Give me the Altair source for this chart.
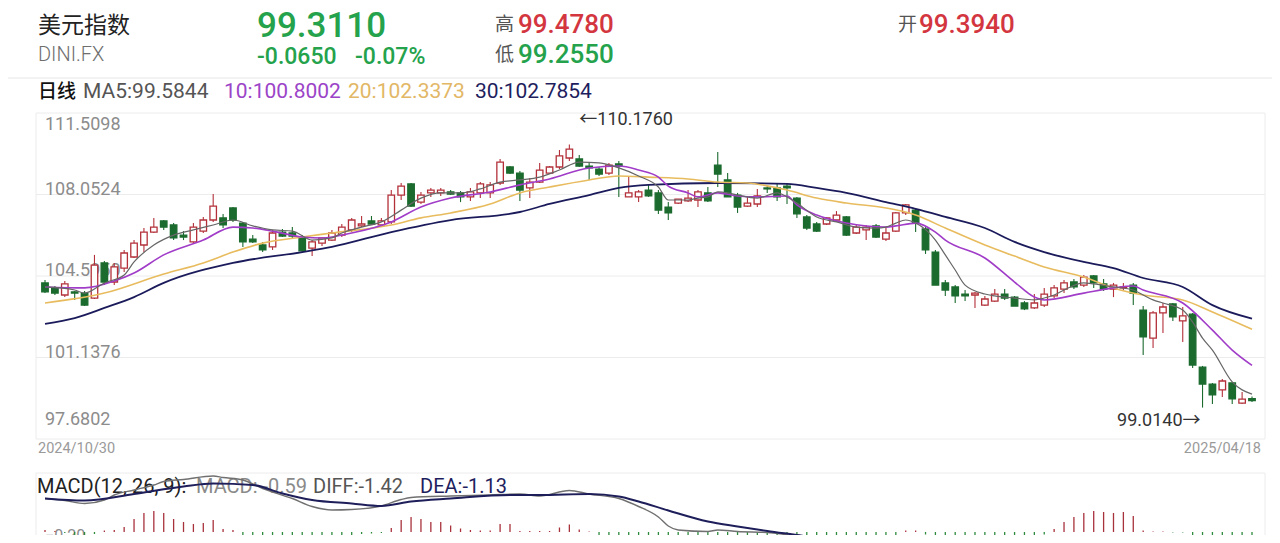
import altair as alt
import pandas as pd

# ---------------- header texts ----------------
NAME = "美元指数"
CODE = "DINI.FX"
LAST = "99.3110"
CHANGE = "-0.0650"
CHANGE_PCT = "-0.07%"
HIGH_LBL, HIGH_TXT = "高", "99.4780"
LOW_LBL, LOW_TXT = "低", "99.2550"
OPEN_LBL, OPEN_TXT = "开", "99.3940"
PERIOD = "日线"
MA_TXT = ["MA5:99.5844", "10:100.8002", "20:102.3373", "30:102.7854"]
MACD_TXT = ["MACD(12, 26, 9):", "MACD: -0.59", "DIFF:-1.42", "DEA:-1.13"]
DATE_START = "2024/10/30"
DATE_END = "2025/04/18"
Y_TICKS = [111.5098, 108.0524, 104.5950, 101.1376, 97.6802]
MACD_TICK = [-0.20]

# ---------------- daily candles (2024/10/30 .. 2025/04/18) ----------------
OPEN = [104.30, 104.09, 103.79, 103.92, 103.87, 103.66, 105.15, 104.34, 104.93, 105.40,
        105.91, 106.46, 106.93, 106.76, 106.33, 106.04, 106.50, 106.97, 107.06, 107.48,
        106.84, 106.16, 105.91, 105.83, 106.46, 106.42, 106.25, 105.78, 105.99, 106.12,
        106.33, 106.55, 106.72, 106.93, 106.76, 106.89, 108.03, 108.50, 107.73, 108.12,
        108.12, 108.16, 108.12, 107.95, 108.12, 108.12, 108.54, 109.22, 108.96, 108.33,
        108.58, 108.96, 109.22, 109.60, 109.56, 109.26, 109.13, 108.96, 109.35, 107.95,
        107.95, 108.24, 108.12, 107.52, 107.69, 107.78, 107.82, 108.12, 109.30, 108.67,
        108.03, 107.56, 107.65, 108.33, 108.33, 108.41, 107.90, 107.10, 106.80, 106.80,
        106.97, 107.10, 106.42, 106.55, 106.72, 106.16, 106.50, 107.27, 107.39, 106.59,
        105.61, 104.30, 104.13, 103.83, 103.79, 103.36, 103.53, 103.83, 103.70, 103.45,
        103.24, 103.36, 103.75, 104.04, 104.34, 104.21, 104.60, 104.26, 104.04, 104.09,
        104.21, 103.15, 101.96, 103.03, 103.41, 102.69, 102.98, 100.73, 100.01, 99.76,
        100.06, 99.20, 99.394]
HIGH = [104.43, 104.17, 104.38, 103.96, 103.96, 105.49, 105.23, 105.15, 105.70, 106.12,
        106.63, 107.06, 106.97, 106.84, 106.50, 106.84, 107.10, 108.07, 107.23, 107.52,
        106.89, 106.33, 106.04, 106.55, 106.59, 106.67, 106.33, 106.12, 106.21, 106.55,
        106.80, 107.06, 107.14, 107.14, 107.06, 108.24, 108.54, 108.54, 108.16, 108.33,
        108.33, 108.24, 108.20, 108.33, 108.58, 108.58, 109.56, 109.26, 109.05, 108.75,
        109.39, 109.26, 109.94, 110.176, 109.73, 109.39, 109.22, 109.39, 109.47, 108.79,
        108.24, 108.46, 108.24, 107.73, 107.86, 108.24, 108.24, 108.37, 109.86, 108.96,
        108.12, 107.99, 108.29, 108.41, 108.50, 108.50, 107.95, 107.18, 106.89, 107.10,
        107.35, 107.14, 106.76, 106.76, 106.80, 106.63, 107.31, 107.65, 107.48, 106.67,
        105.70, 104.43, 104.21, 104.00, 103.92, 103.75, 104.04, 104.04, 103.75, 103.53,
        103.83, 104.09, 104.21, 104.43, 104.47, 104.64, 104.64, 104.47, 104.30, 104.30,
        104.30, 103.32, 103.11, 103.45, 103.45, 103.28, 103.03, 100.78, 100.06, 100.23,
        100.06, 99.67, 99.478]
LOW = [103.87, 103.79, 103.70, 103.58, 103.32, 103.62, 104.21, 104.21, 104.76, 105.36,
       105.61, 106.42, 106.55, 106.12, 106.12, 105.99, 106.42, 106.89, 106.63, 106.89,
       105.83, 105.99, 105.61, 105.70, 106.25, 106.21, 105.61, 105.44, 105.87, 106.08,
       106.25, 106.46, 106.67, 106.80, 106.67, 106.80, 107.82, 107.52, 107.65, 107.95,
       107.99, 108.03, 107.73, 107.78, 107.90, 107.90, 108.46, 108.92, 107.78, 107.90,
       108.54, 108.92, 109.13, 109.47, 109.22, 108.67, 108.84, 108.88, 107.95, 107.95,
       107.73, 107.95, 107.23, 106.97, 107.65, 107.73, 107.52, 107.73, 108.37, 107.95,
       107.27, 107.52, 107.52, 108.12, 107.78, 107.65, 107.06, 106.55, 106.46, 106.76,
       106.89, 106.29, 106.38, 106.12, 106.21, 106.08, 106.46, 107.18, 106.46, 105.53,
       104.21, 103.75, 103.45, 103.53, 103.24, 103.32, 103.49, 103.58, 103.32, 103.15,
       103.20, 103.28, 103.66, 103.87, 104.04, 104.13, 104.09, 103.96, 103.70, 104.00,
       103.36, 101.24, 101.54, 102.18, 102.69, 101.80, 100.69, 99.014, 99.17, 99.46,
       99.17, 99.17, 99.255]
CLOSE = [103.92, 103.87, 104.26, 103.87, 103.36, 105.06, 104.34, 104.98, 105.57, 105.99,
         106.46, 106.67, 106.67, 106.21, 106.25, 106.67, 106.97, 107.56, 106.76, 106.97,
         106.04, 106.04, 105.70, 106.42, 106.29, 106.29, 105.66, 106.04, 106.21, 106.42,
         106.67, 106.97, 106.80, 106.80, 106.93, 108.03, 108.41, 107.56, 108.03, 108.24,
         108.24, 108.07, 107.95, 108.16, 108.50, 108.46, 109.43, 108.96, 108.24, 108.58,
         109.09, 109.22, 109.69, 109.98, 109.26, 109.18, 108.92, 109.30, 109.26, 108.12,
         108.16, 107.99, 107.39, 107.27, 107.86, 107.90, 108.16, 107.78, 108.92, 107.95,
         107.52, 107.69, 107.99, 108.29, 107.95, 108.33, 107.23, 106.63, 106.50, 107.06,
         107.18, 106.33, 106.67, 106.67, 106.25, 106.42, 107.27, 107.61, 106.84, 105.70,
         104.21, 104.00, 103.75, 103.75, 103.87, 103.62, 103.83, 103.66, 103.32, 103.20,
         103.45, 103.83, 104.09, 104.30, 104.13, 104.55, 104.30, 104.04, 104.21, 104.13,
         103.87, 102.01, 103.03, 103.28, 102.86, 102.90, 100.82, 100.01, 99.55, 100.14,
         99.38, 99.376, 99.311]

# ---------------- moving averages (read at sample days) ----------------
MA5_IDX = [0, 3, 4, 6, 8, 9, 11, 13, 15, 17, 19, 21, 23, 25, 27, 29, 30, 32, 34, 36,
           38, 40, 42, 44, 46, 48, 50, 52, 54, 56, 58, 60, 62, 63, 65, 66, 67, 68, 69, 70,
           72, 74, 75, 76, 78, 80, 82, 84, 85, 86, 87, 88, 90, 91, 92, 93, 95, 96, 98, 100,
           101, 102, 103, 105, 106, 108, 110, 111, 112, 113, 115, 116, 117, 118, 120, 122]
MA5 = [104.13, 104.00, 103.87, 104.30, 104.64, 105.19, 105.91, 106.33, 106.55, 106.76,
       106.97, 106.72, 106.55, 106.50, 106.12, 106.21, 106.42, 106.67, 106.89, 107.39,
       107.90, 108.12, 108.12, 108.29, 108.58, 108.67, 108.79, 109.09, 109.43, 109.39,
       109.18, 108.84, 108.37, 107.82, 107.82, 107.90, 107.95, 108.16, 108.12, 108.03,
       107.90, 108.12, 107.95, 107.69, 107.10, 106.89, 106.67, 106.63, 106.67, 106.84,
       106.97, 106.84, 106.12, 105.49, 104.85, 104.21, 103.83, 103.75, 103.66, 103.58,
       103.66, 103.79, 104.00, 104.30, 104.26, 104.13, 104.00, 103.79, 103.58, 103.45,
       103.15, 102.64, 101.96, 101.45, 100.10, 99.5844]
MA10_IDX = [0, 4, 7, 9, 12, 16, 19, 21, 23, 26, 28, 31, 35, 38, 41, 45, 48, 51, 55, 58,
            60, 62, 63, 65, 66, 68, 70, 72, 75, 76, 78, 81, 85, 86, 88, 90, 91, 95, 98, 100,
            101, 105, 108, 110, 111, 115, 118, 120, 122]
MA10 = [104.13, 104.09, 104.38, 104.72, 105.49, 106.12, 106.67, 106.63, 106.50, 106.25,
        106.21, 106.42, 106.89, 107.52, 107.90, 108.16, 108.46, 108.71, 109.18, 109.26,
        109.09, 108.79, 108.41, 108.12, 107.95, 108.12, 107.99, 107.95, 107.99, 107.61,
        107.18, 106.84, 106.67, 106.72, 106.84, 106.46, 106.12, 105.36, 104.34, 103.70,
        103.58, 103.87, 104.09, 104.17, 104.00, 103.45, 102.30, 101.45, 100.8002]
MA20_IDX = [0, 6, 12, 16, 19, 22, 26, 29, 35, 38, 41, 45, 48, 51, 55, 58, 61, 65, 68, 71,
            75, 78, 81, 85, 88, 91, 95, 98, 101, 105, 108, 111, 115, 118, 122]
MA20 = [103.45, 103.87, 104.68, 105.15, 105.61, 105.99, 106.25, 106.42, 106.76, 107.06,
        107.27, 107.65, 108.12, 108.37, 108.67, 108.84, 108.79, 108.71, 108.58, 108.54,
        108.24, 107.90, 107.69, 107.48, 107.18, 106.63, 105.91, 105.44, 104.98, 104.55,
        104.09, 103.79, 103.58, 103.07, 102.3373]
MA30_IDX = [0, 3, 6, 9, 12, 19, 26, 29, 35, 41, 48, 51, 55, 58, 61, 68, 75, 78, 81, 85,
            88, 91, 95, 98, 101, 105, 108, 111, 115, 118, 122]
MA30 = [102.56, 102.81, 103.24, 103.70, 104.30, 105.15, 105.61, 105.83, 106.46, 106.97,
        107.31, 107.65, 108.03, 108.33, 108.46, 108.54, 108.50, 108.33, 108.12, 107.73,
        107.44, 107.10, 106.63, 106.04, 105.61, 105.19, 104.93, 104.51, 104.13, 103.36,
        102.7854]

# ---------------- MACD(12, 26, 9) ----------------
HIST = [0.04, 0.02, -0.02, -0.06, -0.08, -0.04, 0.03, 0.04, 0.10, 0.26,
        0.38, 0.42, 0.38, 0.26, 0.20, 0.16, 0.18, 0.24, 0.06, 0.04,
        -0.06, -0.18, -0.30, -0.36, -0.40, -0.42, -0.44, -0.40, -0.36, -0.30,
        -0.24, -0.18, -0.04, -0.03, -0.02, 0.08, 0.24, 0.30, 0.26, 0.20,
        0.20, 0.13, 0.07, 0.04, 0.03, 0.03, 0.16, 0.16, 0.02, 0.02,
        0.02, 0.02, 0.09, 0.15, 0.05, 0.01, -0.06, -0.13, -0.16, -0.22,
        -0.24, -0.32, -0.40, -0.55, -0.62, -0.55, -0.45, -0.40, -0.34, -0.28,
        -0.24, -0.24, -0.26, -0.24, -0.26, -0.30, -0.32, -0.30, -0.38, -0.36,
        -0.38, -0.34, -0.30, -0.28, -0.26, -0.24, -0.08, 0.03, 0.03, -0.05,
        -0.24, -0.36, -0.42, -0.46, -0.46, -0.44, -0.40, -0.36, -0.34, -0.30,
        -0.24, -0.05, 0.06, 0.20, 0.30, 0.38, 0.42, 0.40, 0.38, 0.40,
        0.32, 0.03, 0.01, 0.01, -0.01, -0.01, -0.28, -0.44, -0.56, -0.62,
        -0.64, -0.62, -0.59]
DIFF_IDX = [0, 2, 4, 6, 7, 9, 11, 12, 14, 17, 18, 20, 22, 25, 27, 29, 31, 34, 36, 37,
            41, 45, 48, 50, 53, 55, 58, 60, 62, 63, 64, 67, 68, 70, 73, 75, 77, 80, 85, 88,
            90, 95, 100, 102, 106, 110, 113, 116, 119, 122]
DIFF = [0.67, 0.63, 0.57, 0.64, 0.74, 0.84, 0.94, 1.01, 1.05, 1.12,
        1.09, 1.04, 0.87, 0.67, 0.51, 0.44, 0.45, 0.52, 0.65, 0.69,
        0.72, 0.74, 0.76, 0.72, 0.83, 0.76, 0.67, 0.51, 0.30, 0.12,
        0.04, 0.01, 0.04, 0.01, -0.01, -0.06, -0.19, -0.38, -0.40, -0.42,
        -0.65, -0.98, -1.05, -0.88, -0.60, -0.56, -0.68, -0.90, -1.25, -1.42]
DEA_IDX = [0, 4, 9, 14, 17, 21, 24, 27, 31, 34, 37, 41, 47, 50, 55, 58, 60, 63, 67, 70,
           73, 77, 80, 85, 90, 95, 100, 103, 106, 110, 113, 116, 119, 122]
DEA = [0.67, 0.63, 0.76, 0.91, 0.97, 0.94, 0.77, 0.64, 0.57, 0.52,
       0.61, 0.67, 0.74, 0.74, 0.76, 0.71, 0.61, 0.43, 0.21, 0.11,
       0.02, -0.09, -0.19, -0.35, -0.55, -0.75, -0.90, -0.88, -0.80, -0.72,
       -0.68, -0.75, -0.95, -1.13]

# ---------------- styles ----------------
SANS = "Roboto, Noto Sans CJK SC, sans-serif"
CJK = "Noto Sans CJK SC"
RED = "#B3303A"
GREEN = "#1B6B2E"
H_RED = "#D3363F"
H_GREEN = "#24A24C"
HIST_RED = "#A8323C"
HIST_GREEN = "#2E8B3C"
C_MA5, C_MA10, C_MA20, C_MA30 = "#666666", "#A03CC8", "#E8BC5E", "#1B1B5C"
GRID = "#ececec"

N = len(CLOSE)
XS = alt.Scale(domain=[0, N - 1], range=[32, 1249], nice=False, zero=False)
PS = alt.Scale(domain=[Y_TICKS[-1], Y_TICKS[0]], range=[431, 105], nice=False, zero=False)
MS = alt.Scale(domain=[-0.2, 1.0], range=[534, 474], nice=False, zero=False)
X = alt.X("i:Q", scale=XS, axis=None)


def txt(s, x, y, size, color, font=SANS, weight="normal", align="left"):
    return alt.Chart(alt.Data(values=[{"t": s}])).mark_text(
        align=align, baseline="middle", font=font, fontSize=size,
        fontWeight=weight, color=color).encode(
        text="t:N", x=alt.value(x), y=alt.value(y))


def hline(y, x1, x2, color=GRID):
    return alt.Chart(alt.Data(values=[{}])).mark_rule(color=color, strokeWidth=1).encode(
        x=alt.value(x1), x2=alt.value(x2), y=alt.value(y))


def vline(x, y1, y2, color=GRID):
    return alt.Chart(alt.Data(values=[{}])).mark_rule(color=color, strokeWidth=1).encode(
        x=alt.value(x), y=alt.value(y1), y2=alt.value(y2))


layers = []

# header
layers += [
    txt(NAME, 30, 18, 23, "#222222", font=CJK),
    txt(CODE, 30, 47, 20, "#6e6e6e", weight=300),
    txt(LAST, 249, 18, 35, H_GREEN, weight=500),
    txt(CHANGE, 249, 49, 23, H_GREEN, weight=500),
    txt(CHANGE_PCT, 347, 49, 23, H_GREEN, weight=500),
    txt(HIGH_LBL, 487, 17, 19, "#555555", font=CJK),
    txt(HIGH_TXT, 510, 17, 26, H_RED, weight=500),
    txt(LOW_LBL, 487, 47, 19, "#555555", font=CJK),
    txt(LOW_TXT, 510, 47, 26, H_GREEN, weight=500),
    txt(OPEN_LBL, 890, 17, 19, "#555555", font=CJK),
    txt(OPEN_TXT, 911, 17, 26, H_RED, weight=500),
    hline(70, 0, 1264, "#e6e6e6"),
    txt(PERIOD, 30, 84, 19, "#111111", font=CJK, weight=500),
    txt(MA_TXT[0], 75, 84, 21, "#555555"),
    txt(MA_TXT[1], 216, 84, 21, "#9B44C8"),
    txt(MA_TXT[2], 340, 84, 21, "#E2B766"),
    txt(MA_TXT[3], 467, 84, 21, "#1E1E5E"),
]

# price panel grid and frame
tick_df = pd.DataFrame({"v": Y_TICKS})
layers.append(alt.Chart(tick_df).mark_rule(color=GRID, strokeWidth=1).encode(
    y=alt.Y("v:Q", scale=PS, axis=None), x=alt.value(28), x2=alt.value(1257)))
layers += [vline(28, 105, 431), vline(1257, 105, 431)]

for sub, dy in [(Y_TICKS[:1], 12), (Y_TICKS[1:4], -5), (Y_TICKS[4:], -19)]:
    layers.append(alt.Chart(pd.DataFrame({"v": sub})).mark_text(
        align="left", baseline="middle", dy=dy, fontSize=18, color="#8c8c8c", font=SANS).encode(
        y=alt.Y("v:Q", scale=PS, axis=None), x=alt.value(37),
        text=alt.Text("v:Q", format=".4f")))

# candles
cdf = pd.DataFrame({"i": list(range(N)), "open": OPEN, "high": HIGH, "low": LOW, "close": CLOSE})
up = alt.datum.close >= alt.datum.open
layers.append(alt.Chart(cdf).mark_rule(strokeWidth=1.1).encode(
    x=X, y=alt.Y("low:Q", scale=PS, axis=None), y2="high:Q",
    color=alt.condition(up, alt.value(RED), alt.value(GREEN))))
layers.append(alt.Chart(cdf).mark_bar(size=6.5, strokeWidth=1.3).encode(
    x=X, y=alt.Y("open:Q", scale=PS, axis=None), y2="close:Q",
    fill=alt.condition(up, alt.value("#ffffff"), alt.value(GREEN)),
    stroke=alt.condition(up, alt.value(RED), alt.value(GREEN))))

# moving averages
for idx, vals, col, w in [(MA30_IDX, MA30, C_MA30, 1.8), (MA20_IDX, MA20, C_MA20, 1.6),
                          (MA10_IDX, MA10, C_MA10, 1.6), (MA5_IDX, MA5, C_MA5, 1.2)]:
    layers.append(alt.Chart(pd.DataFrame({"i": idx, "v": vals})).mark_line(
        color=col, strokeWidth=w, interpolate="monotone").encode(
        x=X, y=alt.Y("v:Q", scale=PS, axis=None)))

# extreme labels
imax = max(range(N), key=lambda k: HIGH[k])
imin = min(range(N), key=lambda k: LOW[k])
layers.append(alt.Chart(pd.DataFrame({"i": [imax], "t": ["\u2190" + f"{HIGH[imax]:.4f}"]})).mark_text(
    align="left", baseline="middle", dx=10, fontSize=18, color="#333333", font=SANS).encode(
    x=X, y=alt.value(112), text="t:N"))
layers.append(alt.Chart(pd.DataFrame({"i": [imin], "v": [LOW[imin]], "t": [f"{LOW[imin]:.4f}" + "\u2192"]})).mark_text(
    align="right", baseline="middle", dx=-2, dy=13, fontSize=18, color="#333333", font=SANS).encode(
    x=X, y=alt.Y("v:Q", scale=PS, axis=None), text="t:N"))

# dates
layers += [
    txt(DATE_START, 30, 441, 14.5, "#9a9a9a"),
    txt(DATE_END, 1253, 441, 14.5, "#9a9a9a", align="right"),
]

# MACD panel
layers += [hline(465, 28, 1257), vline(28, 465, 527), vline(1257, 465, 527)]
layers.append(alt.Chart(pd.DataFrame({"v": MACD_TICK})).mark_text(
    align="left", baseline="middle", dy=-6, fontSize=16, color="#8c8c8c", font=SANS).encode(
    y=alt.Y("v:Q", scale=MS, axis=None), x=alt.value(37),
    text=alt.Text("v:Q", format=".2f")))
hdf = pd.DataFrame({"i": list(range(N)), "h": HIST, "z": [0.0] * N})
layers.append(alt.Chart(hdf).mark_rule(strokeWidth=1.3).encode(
    x=X, y=alt.Y("z:Q", scale=MS, axis=None), y2="h:Q",
    color=alt.condition(alt.datum.h >= 0, alt.value(HIST_RED), alt.value(HIST_GREEN))))
layers += [
    txt(MACD_TXT[0], 29, 479, 20, "#222222"),
    txt(MACD_TXT[1], 188, 479, 20, "#8a8a8a"),
    txt(MACD_TXT[2], 305, 479, 20, "#555555"),
    txt(MACD_TXT[3], 412, 479, 20, "#1E1E5E"),
]
layers.append(alt.Chart(pd.DataFrame({"i": DIFF_IDX, "v": DIFF})).mark_line(
    color="#707070", strokeWidth=1.4, interpolate="monotone").encode(
    x=X, y=alt.Y("v:Q", scale=MS, axis=None)))
layers.append(alt.Chart(pd.DataFrame({"i": DEA_IDX, "v": DEA})).mark_line(
    color="#1E1E5A", strokeWidth=2, interpolate="monotone").encode(
    x=X, y=alt.Y("v:Q", scale=MS, axis=None)))

chart = alt.layer(*layers).resolve_scale(y="independent").properties(
    width=1264, height=527, padding=0,
    autosize=alt.AutoSizeParams(type="none"),
    background="white",
).configure_view(stroke=None)

chart.save("out.html", embed_options={"renderer": "svg", "actions": False})
